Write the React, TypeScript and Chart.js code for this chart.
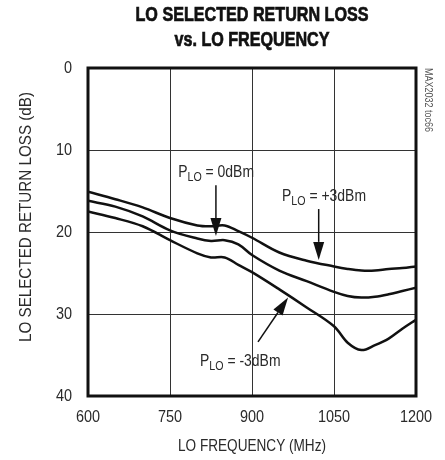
import React, { useEffect, useRef } from "react";
import { Chart, registerables } from "chart.js";

Chart.register(...registerables);

// ---- data ----
const FREQ_MHZ = [600, 650, 700, 750, 800, 825, 850, 875, 900, 950, 1000, 1050, 1075, 1100, 1125, 1150, 1175, 1200];
const RL_P3 = [15.1, 16.0, 17.0, 18.3, 19.2, 19.3, 19.2, 19.9, 20.7, 22.5, 23.5, 24.2, 24.5, 24.7, 24.7, 24.5, 24.4, 24.2];
const RL_0 = [16.2, 16.9, 18.1, 19.8, 20.8, 21.1, 21.0, 21.5, 22.8, 24.7, 26.0, 27.3, 27.8, 28.0, 27.9, 27.6, 27.2, 26.8];
const RL_M3 = [17.5, 18.3, 19.3, 21.0, 22.6, 23.1, 23.1, 24.0, 24.9, 27.0, 29.2, 31.5, 33.5, 34.4, 33.8, 33.0, 31.8, 30.7];

const X_TICKS = [600, 750, 900, 1050, 1200];
const Y_TICKS = [0, 10, 20, 30, 40];

const TITLE_LINES = ["LO SELECTED RETURN LOSS", "vs. LO FREQUENCY"];
const X_TITLE = "LO FREQUENCY (MHz)";
const Y_TITLE = "LO SELECTED RETURN LOSS (dB)";
const SIDE_NOTE = "MAX2032 toc66";

// annotation labels (data coordinates)
const LABELS = [
  { text: " = 0dBm", x: 765, y: 12.4 },
  { text: " = +3dBm", x: 955, y: 15.4 },
  { text: " = -3dBm", x: 805, y: 35.5 },
];
const ARROWS = [
  { x1: 834, y1: 14.3, x2: 834, y2: 20.5 },
  { x1: 1022, y1: 17.2, x2: 1022, y2: 23.4 },
  { x1: 911, y1: 33.4, x2: 966, y2: 28.0 },
];

const FAMILY = "'Liberation Sans', Arial, sans-serif";
const TEXT_COLOR = "#2a2a2a";
const CONDENSE = 0.82;

function condText(ctx: CanvasRenderingContext2D, text: string, x: number, y: number, sx: number, align: "left" | "center" | "right", stroke = 0) {
  const w = ctx.measureText(text).width * sx;
  let left = x;
  if (align === "center") left = x - w / 2;
  else if (align === "right") left = x - w;
  ctx.save();
  ctx.translate(left, y);
  ctx.scale(sx, 1);
  ctx.textAlign = "left";
  ctx.fillText(text, 0, 0);
  if (stroke > 0) {
    ctx.lineWidth = stroke;
    ctx.strokeStyle = ctx.fillStyle as string;
    ctx.strokeText(text, 0, 0);
  }
  ctx.restore();
  return w;
}

const decor = {
  id: "decor",
  afterDraw(chart: any) {
    const { ctx, chartArea, scales } = chart;
    const xs = scales.x;
    const ys = scales.y;
    ctx.save();
    // frame
    ctx.strokeStyle = "#111";
    ctx.lineWidth = 3;
    ctx.strokeRect(chartArea.left, chartArea.top, chartArea.right - chartArea.left, chartArea.bottom - chartArea.top);

    const cx = (chartArea.left + chartArea.right) / 2;

    // title (bold condensed)
    ctx.fillStyle = "#111";
    ctx.textBaseline = "middle";
    ctx.font = `bold 20px ${FAMILY}`;
    const tsx = 233 / ctx.measureText(TITLE_LINES[0]).width;
    condText(ctx, TITLE_LINES[0], cx, 15, tsx, "center", 0.7);
    condText(ctx, TITLE_LINES[1], cx, 40, tsx, "center", 0.7);

    // tick labels from the library's scales
    ctx.fillStyle = TEXT_COLOR;
    ctx.font = `17px ${FAMILY}`;
    for (const t of xs.ticks) {
      condText(ctx, String(t.value), xs.getPixelForValue(t.value), 417, 0.85, "center");
    }
    for (const t of ys.ticks) {
      condText(ctx, String(t.value), 72, ys.getPixelForValue(t.value), 0.85, "right");
    }

    // axis titles
    ctx.font = `17px ${FAMILY}`;
    condText(ctx, X_TITLE, cx, 446, 148 / ctx.measureText(X_TITLE).width, "center");
    ctx.save();
    ctx.translate(26, 217);
    ctx.rotate(-Math.PI / 2);
    condText(ctx, Y_TITLE, 0, 0, 250 / ctx.measureText(Y_TITLE).width, "center");
    ctx.restore();

    // side note
    ctx.save();
    ctx.fillStyle = "#555";
    ctx.font = `10px ${FAMILY}`;
    ctx.translate(428, 68);
    ctx.rotate(Math.PI / 2);
    condText(ctx, SIDE_NOTE, 0, 0, 64 / ctx.measureText(SIDE_NOTE).width, "left");
    ctx.restore();

    // labels with subscript
    ctx.fillStyle = TEXT_COLOR;
    ctx.textBaseline = "alphabetic";
    for (const l of LABELS) {
      let px = xs.getPixelForValue(l.x);
      const py = ys.getPixelForValue(l.y) + 7;
      ctx.font = `17px ${FAMILY}`;
      px += condText(ctx, "P", px, py, CONDENSE, "left");
      ctx.font = `13px ${FAMILY}`;
      px += condText(ctx, "LO", px, py + 4, CONDENSE, "left");
      ctx.font = `17px ${FAMILY}`;
      condText(ctx, l.text, px, py, CONDENSE, "left");
    }

    // arrows
    ctx.strokeStyle = "#111";
    ctx.fillStyle = "#111";
    for (const a of ARROWS) {
      const x1 = xs.getPixelForValue(a.x1);
      const y1 = ys.getPixelForValue(a.y1);
      const x2 = xs.getPixelForValue(a.x2);
      const y2 = ys.getPixelForValue(a.y2);
      const ang = Math.atan2(y2 - y1, x2 - x1);
      const headLen = 18;
      const headW = 5.5;
      const bx = x2 - headLen * Math.cos(ang);
      const by = y2 - headLen * Math.sin(ang);
      ctx.lineWidth = 1.5;
      ctx.beginPath();
      ctx.moveTo(x1, y1);
      ctx.lineTo(bx, by);
      ctx.stroke();
      ctx.beginPath();
      ctx.moveTo(x2, y2);
      ctx.lineTo(bx + headW * Math.sin(ang), by - headW * Math.cos(ang));
      ctx.lineTo(bx - headW * Math.sin(ang), by + headW * Math.cos(ang));
      ctx.closePath();
      ctx.fill();
    }
    ctx.restore();
  },
};

export default function App() {
  const ref = useRef<HTMLCanvasElement>(null);
  useEffect(() => {
    if (!ref.current) return;
    const mk = (vals: number[]) => FREQ_MHZ.map((f, i) => ({ x: f, y: vals[i] }));
    const lineStyle = {
      borderColor: "#111",
      borderWidth: 2.5,
      pointRadius: 0,
      fill: false,
      tension: 0.35,
    };
    const chart = new Chart(ref.current, {
      type: "line",
      data: {
        datasets: [
          { label: "+3dBm", data: mk(RL_P3), ...lineStyle },
          { label: "0dBm", data: mk(RL_0), ...lineStyle },
          { label: "-3dBm", data: mk(RL_M3), ...lineStyle },
        ],
      },
      options: {
        animation: false,
        responsive: false,
        layout: { padding: { left: 0, top: 68, right: 29, bottom: 0 } },
        plugins: { legend: { display: false }, tooltip: { enabled: false }, title: { display: false } },
        scales: {
          x: {
            type: "linear",
            min: 600,
            max: 1200,
            afterFit: (s: any) => { s.height = 64; },
            afterBuildTicks: (s: any) => { s.ticks = X_TICKS.map((v) => ({ value: v })); },
            grid: { color: "#333", lineWidth: 1, drawTicks: false },
            border: { display: false },
            ticks: { display: false },
          },
          y: {
            type: "linear",
            reverse: true,
            min: 0,
            max: 40,
            afterFit: (s: any) => { s.width = 88; },
            afterBuildTicks: (s: any) => { s.ticks = Y_TICKS.map((v) => ({ value: v })); },
            grid: { color: "#333", lineWidth: 1, drawTicks: false },
            border: { display: false },
            ticks: { display: false },
          },
        },
      },
      plugins: [decor],
    });
    return () => chart.destroy();
  }, []);
  return (
    <div style={{ position: "absolute", left: 0, top: 0, width: 445, height: 460, background: "#fff" }}>
      <canvas ref={ref} width={445} height={460} style={{ display: "block" }} />
    </div>
  );
}
